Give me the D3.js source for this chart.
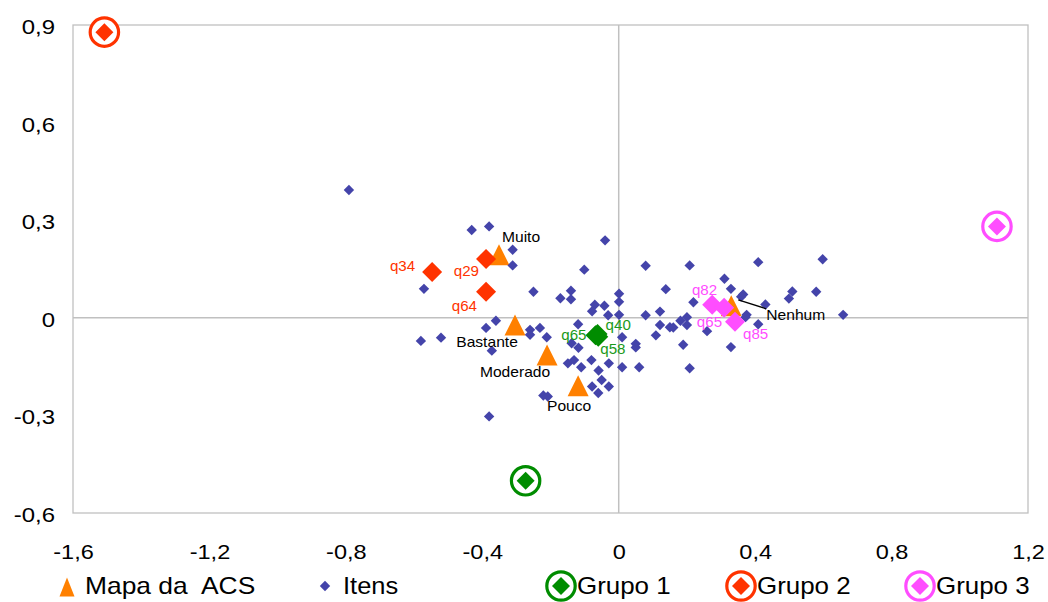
<!DOCTYPE html>
<html>
<head>
<meta charset="utf-8">
<script src="https://cdn.jsdelivr.net/npm/d3@7"></script>
<style>
  html, body { margin: 0; padding: 0; background: #fff; }
  svg { display: block; font-family: "Liberation Sans", Arial, sans-serif; }
</style>
</head>
<body>
<svg id="chart" width="1048" height="602"></svg>
<script>
// ---- data -------------------------------------------------------------
const xTicks = [-1.6, -1.2, -0.8, -0.4, 0, 0.4, 0.8, 1.2];
const yTicks = [-0.6, -0.3, 0, 0.3, 0.6, 0.9];

// ACS scale categories (Mapa da ACS)
const acsLabels = ["Muito", "Bastante", "Moderado", "Pouco", "Nenhum"];
const acsX = [-0.351, -0.304, -0.210, -0.119, 0.330];
const acsY = [0.194, -0.022, -0.114, -0.209, 0.037];

// Item coordinates (Itens)
const itemsX = [
  -0.791, -0.431, -0.380, -0.311, -0.311, -0.040, -0.101, -0.571, -0.250, -0.140,
  -0.171, -0.140, 0.001, 0.001, 0.001, -0.070, -0.042, -0.078, -0.031, -0.360,
  -0.389, -0.260, -0.260, -0.231, -0.211, -0.119, -0.580, -0.521, 0.010, -0.372,
  -0.138, -0.118, 0.050, 0.050, -0.149, -0.131, -0.110, -0.080, -0.059, -0.029,
  0.010, 0.060, -0.050, -0.078, -0.060, -0.029, -0.221, -0.208, -0.380, 0.079,
  0.138, 0.079, 0.121, 0.121, 0.109, 0.150, 0.208, 0.409, 0.598, 0.310,
  0.329, 0.219, 0.365, 0.359, 0.509, 0.499, 0.579, 0.430, 0.658, 0.375,
  0.372, 0.200, 0.181, 0.200, 0.160, 0.259, 0.409, 0.189, 0.329, 0.208
];
const itemsY = [
  0.393, 0.270, 0.281, 0.209, 0.161, 0.238, 0.148, 0.089, 0.080, 0.083,
  0.060, 0.057, 0.074, 0.049, 0.009, 0.040, 0.037, 0.020, 0.008, -0.009,
  -0.031, -0.037, -0.052, -0.031, -0.060, -0.020, -0.071, -0.061, -0.060, -0.101,
  -0.078, -0.092, -0.080, -0.091, -0.140, -0.130, -0.152, -0.130, -0.162, -0.140,
  -0.152, -0.152, -0.191, -0.211, -0.231, -0.211, -0.239, -0.242, -0.303, 0.160,
  0.088, 0.008, 0.019, -0.022, -0.054, -0.029, 0.161, 0.171, 0.180, 0.120,
  0.089, 0.048, 0.072, 0.065, 0.081, 0.059, 0.080, 0.041, 0.009, 0.009,
  0.002, 0.002, -0.009, -0.022, -0.030, -0.041, -0.020, -0.083, -0.090, -0.155
];

// Questions characterising each group
const group1Labels = ["q65", "q40", "q58"];
const group1X = [-0.068, -0.062, -0.060];
const group1Y = [-0.054, -0.050, -0.058];

const group2Labels = ["q34", "q29", "q64"];
const group2X = [-0.547, -0.389, -0.389];
const group2Y = [0.141, 0.181, 0.080];

const group3Labels = ["q82", "q65", "q85"];
const group3X = [0.274, 0.309, 0.341];
const group3Y = [0.040, 0.031, -0.012];

// Group centres
const groupNames = ["Grupo 1", "Grupo 2", "Grupo 3"];
const groupX = [-0.273, -1.508, 1.109];
const groupY = [-0.501, 0.878, 0.281];

// ---- styling ----------------------------------------------------------
const COLORS = {
  acs: "#FF8000",
  items: "#4444AA",
  g1: "#008C00", g1Text: "#1A9A1A",
  g2: "#FF3300",
  g3: "#FF4DFF",
  axis: "#C0C0C0"
};
const FONT = '"Liberation Sans", Arial, sans-serif';

// label placement (pixel offsets from the mark) for each annotated series
const acsLabelPos = {
  "Muito":    { dx: 3,   dy: -13, anchor: "start" },
  "Bastante": { dx: -28, dy: 22,  anchor: "middle" },
  "Moderado": { dx: -32, dy: 22,  anchor: "middle" },
  "Pouco":    { dx: -9,  dy: 25,  anchor: "middle" },
  "Nenhum":   { dx: 35,  dy: 14,  anchor: "start", leader: [7, -6, 35, 3] }
};
const g1LabelPos = [
  { dx: -9, dy: 5,  anchor: "end" },
  { dx: 8,  dy: -4, anchor: "start" },
  { dx: 2,  dy: 17, anchor: "start" }
];
const g2LabelPos = [
  { dx: -17, dy: -1, anchor: "end" },
  { dx: -7,  dy: 17, anchor: "end" },
  { dx: -9,  dy: 19, anchor: "end" }
];
const g3LabelPos = [
  { dx: 5,  dy: -10, anchor: "end" },
  { dx: -2, dy: 19,  anchor: "end" },
  { dx: 8,  dy: 17,  anchor: "start" }
];

// widen glyphs slightly (the chart's typeface runs a little wider than Liberation Sans)
function widen(sel, factor) {
  sel.each(function () {
    const w = this.getComputedTextLength();
    d3.select(this).attr("textLength", w * factor).attr("lengthAdjust", "spacingAndGlyphs");
  });
}

// ---- scales -----------------------------------------------------------
const svg = d3.select("#chart");
const plotLeft = 73, plotRight = 1028, plotTop = 25, plotBottom = 513;
const x = d3.scaleLinear().domain([-1.6, 1.2]).range([plotLeft, plotRight]);
const y = d3.scaleLinear().domain([-0.6, 0.9]).range([plotBottom, plotTop]);
const fmt = d => d3.format(".1~f")(d).replace(".", ",").replace("\u2212", "-");

svg.append("rect").attr("width", 1048).attr("height", 602).attr("fill", "#fff");

// plot frame
svg.append("rect")
  .attr("x", plotLeft).attr("y", plotTop)
  .attr("width", plotRight - plotLeft).attr("height", plotBottom - plotTop)
  .attr("fill", "none").attr("stroke", COLORS.axis).attr("stroke-width", 1.3);

// zero axes
svg.append("line")
  .attr("x1", x(0)).attr("x2", x(0)).attr("y1", plotTop).attr("y2", plotBottom)
  .attr("stroke", COLORS.axis).attr("stroke-width", 1.5);
svg.append("line")
  .attr("x1", plotLeft).attr("x2", plotRight).attr("y1", y(0)).attr("y2", y(0))
  .attr("stroke", COLORS.axis).attr("stroke-width", 1.5);

// tick labels
const xAxis = svg.append("g")
  .attr("transform", `translate(0,${plotBottom})`)
  .call(d3.axisBottom(x).tickValues(xTicks).tickFormat(fmt).tickSize(0).tickPadding(0));
xAxis.select(".domain").remove();
xAxis.selectAll("text")
  .attr("y", 46).attr("dy", null)
  .attr("font-family", FONT).attr("font-size", 21).attr("fill", "#000")
  .call(widen, 1.12);

const yAxis = svg.append("g")
  .attr("transform", `translate(${plotLeft},0)`)
  .call(d3.axisLeft(y).tickValues(yTicks).tickFormat(fmt).tickSize(0).tickPadding(0));
yAxis.select(".domain").remove();
yAxis.selectAll("text")
  .attr("x", -18).attr("dy", 8.5)
  .attr("font-family", FONT).attr("font-size", 21).attr("fill", "#000")
  .call(widen, 1.14);

// ---- marker shapes ----------------------------------------------------
const diamond = r => `M0,${-r}L${r},0L0,${r}L${-r},0Z`;
const triangle = (w, h) => `M0,${-h / 2}L${w / 2},${h / 2}L${-w / 2},${h / 2}Z`;

// ACS categories (triangles)
const acs = acsLabels.map((label, i) => ({ label, x: acsX[i], y: acsY[i] }));
svg.append("g").selectAll("path").data(acs).join("path")
  .attr("d", triangle(21, 21))
  .attr("transform", d => `translate(${x(d.x)},${y(d.y)})`)
  .attr("fill", COLORS.acs);

// items
const items = itemsX.map((v, i) => ({ x: v, y: itemsY[i] }));
svg.append("g").selectAll("path").data(items).join("path")
  .attr("d", diamond(5.2))
  .attr("transform", d => `translate(${x(d.x)},${y(d.y)})`)
  .attr("fill", COLORS.items);

// group question markers
function drawGroup(labels, xs, ys, color, textColor, pos) {
  const data = labels.map((label, i) => ({ label, x: xs[i], y: ys[i], p: pos[i] }));
  const g = svg.append("g");
  g.selectAll("path").data(data).join("path")
    .attr("d", diamond(10))
    .attr("transform", d => `translate(${x(d.x)},${y(d.y)})`)
    .attr("fill", color);
  g.selectAll("text").data(data).join("text")
    .attr("x", d => x(d.x) + d.p.dx)
    .attr("y", d => y(d.y) + d.p.dy)
    .attr("text-anchor", d => d.p.anchor)
    .attr("font-family", FONT).attr("font-size", 14)
    .attr("fill", textColor)
    .text(d => d.label)
    .call(widen, 1.08);
}
drawGroup(group1Labels, group1X, group1Y, COLORS.g1, COLORS.g1Text, g1LabelPos);
drawGroup(group2Labels, group2X, group2Y, COLORS.g2, COLORS.g2, g2LabelPos);
drawGroup(group3Labels, group3X, group3Y, COLORS.g3, COLORS.g3, g3LabelPos);

// ACS labels and leader line
const acsText = svg.append("g");
acs.forEach(d => {
  const p = acsLabelPos[d.label];
  const cx = x(d.x), cy = y(d.y);
  if (p.leader) {
    acsText.append("line")
      .attr("x1", cx + p.leader[0]).attr("y1", cy + p.leader[1])
      .attr("x2", cx + p.leader[2]).attr("y2", cy + p.leader[3])
      .attr("stroke", "#000").attr("stroke-width", 1.3);
  }
  acsText.append("text")
    .attr("x", cx + p.dx).attr("y", cy + p.dy)
    .attr("text-anchor", p.anchor)
    .attr("font-family", FONT).attr("font-size", 15).attr("fill", "#000")
    .text(d.label)
    .call(widen, 1.04);
});

// group centres: ringed diamonds
const groupColors = [COLORS.g1, COLORS.g2, COLORS.g3];
const groups = groupNames.map((name, i) => ({ name, x: groupX[i], y: groupY[i], c: groupColors[i] }));
function ringMarker(sel, c) {
  sel.append("circle").attr("r", 14.2).attr("fill", "#fff")
    .attr("stroke", c).attr("stroke-width", 3.2);
  sel.append("path").attr("d", diamond(9)).attr("fill", c);
}
groups.forEach(d => {
  const g = svg.append("g").attr("transform", `translate(${x(d.x)},${y(d.y)})`);
  ringMarker(g, d.c);
});

// ---- legend -----------------------------------------------------------
const legY = 586, legBase = 594;
const legend = svg.append("g").attr("font-family", FONT).attr("font-size", 24).attr("fill", "#000");

legend.append("path").attr("d", triangle(15, 19))
  .attr("transform", `translate(67,${legY + 1})`).attr("fill", COLORS.acs);
legend.append("text").attr("x", 85).attr("y", legBase).text("Mapa da\u00A0 ACS")
  .call(widen, 1.1);

legend.append("path").attr("d", diamond(5.2))
  .attr("transform", `translate(325,${legY})`).attr("fill", COLORS.items);
legend.append("text").attr("x", 343).attr("y", legBase).text("Itens")
  .call(widen, 1.06);

const legGroupX = [561, 741, 920];
groups.forEach((d, i) => {
  const g = legend.append("g").attr("transform", `translate(${legGroupX[i]},${legY})`);
  ringMarker(g, d.c);
  legend.append("text").attr("x", legGroupX[i] + 16).attr("y", legBase).text(d.name)
    .call(widen, 1.08);
});
</script>
</body>
</html>
